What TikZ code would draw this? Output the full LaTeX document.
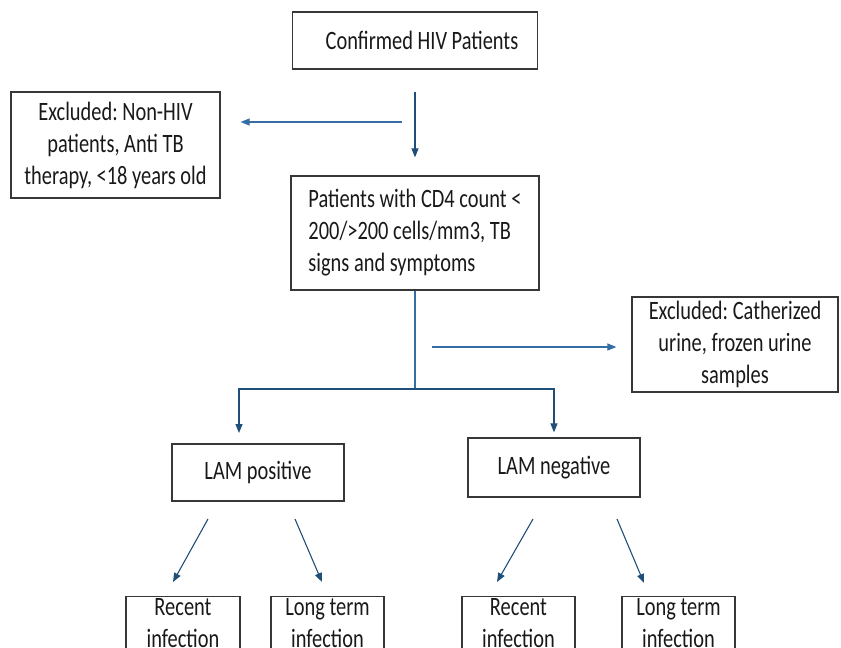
\documentclass[tikz,border=0pt]{standalone}
\usepackage{fontspec}
\setmainfont{Carlito}[FakeStretch=0.77]
\usetikzlibrary{arrows.meta,positioning,calc}
\definecolor{linkblue}{RGB}{31,78,121}
\definecolor{sideblue}{RGB}{52,110,165}
\definecolor{boxgray}{RGB}{55,55,55}
\definecolor{textgray}{RGB}{25,25,25}
\frenchspacing

\begin{document}
\begin{tikzpicture}[
            x=1pt, y=-1pt,
            every node/.style={font=\fontsize{26.5}{32}\selectfont, text=textgray},
            stage/.style={draw=boxgray, line width=1.2pt, align=center, inner sep=0pt},
            leaf/.style={stage, anchor=north, inner ysep=2pt, font=\fontsize{26.5}{31.5}\selectfont},
            arr/.style={draw=linkblue, line width=1.1pt, -{Triangle[length=9pt,width=7pt]}},
            sidearr/.style={arr, draw=sideblue},
            trunk/.style={draw=sideblue, line width=1.1pt}
          ]
          \useasboundingbox (0,0) rectangle (841,648);
          % boxes
          \node[stage, minimum width=245pt, minimum height=57pt] (hiv) at (415,40.5) {\hspace*{14pt}Confirmed HIV Patients};
          \node[stage, minimum width=209pt, minimum height=106pt] (exhiv) at (115.5,145) {Excluded: Non-HIV\\patients, Anti TB\\therapy, <18 years old};
          \node[stage, align=left, minimum width=248pt, minimum height=114pt] (cd4) at (415,233) {Patients with CD4 count <\\200/>200 cells/mm3, TB\\signs and symptoms};
          \node[stage, minimum width=206pt, minimum height=95pt] (exurine) at (735,344.5) {Excluded: Catherized\\urine, frozen urine\\samples};
          \node[stage, minimum width=172pt, minimum height=57pt] (lampos) at (258,472.5) {LAM positive};
          \node[stage, minimum width=172pt, minimum height=59pt] (lamneg) at (554,467.5) {LAM negative};
          \node[leaf, minimum width=114pt] (recpos) at (183,596) {Recent\\infection};
          \node[leaf, minimum width=113pt] (longpos) at (327.5,596) {Long term\\infection};
          \node[leaf, minimum width=113pt] (recneg) at (518.5,596) {Recent\\infection};
          \node[leaf, minimum width=113pt] (longneg) at (678.5,596) {Long term\\infection};
          % free ends
          \coordinate (tee1) at (402,122);
          \coordinate (tee2) at (432,347);
          \coordinate (split) at (415,389);
          \coordinate (drop1) at (239,433);
          \coordinate (pa) at (208,519);
          \coordinate (pb) at (295,519);
          \coordinate (na) at (533,519);
          \coordinate (nb) at (617,519);
          \coordinate (pa2) at (173,582);
          \coordinate (pb2) at (322,582);
          \coordinate (na2) at (497,582);
          \coordinate (nb2) at (644,583);
          % connectors
          \draw[arr, shorten <=22pt, shorten >=18pt] (hiv) -- (cd4);
          \draw[sidearr, shorten >=20pt] (tee1) -- (tee1 -| exhiv.east);
          \draw[trunk] (cd4) -- (split);
          \draw[sidearr, shorten >=15pt] (tee2) -- (tee2 -| exurine.west);
          \draw[arr] (split) -| (drop1);
          \draw[arr, shorten >=5pt] (split) -| (lamneg.north);
          \draw[arr] (pa) -- (pa2);
          \draw[arr] (pb) -- (pb2);
          \draw[arr] (na) -- (na2);
          \draw[arr] (nb) -- (nb2);
        \end{tikzpicture}
\end{document}
